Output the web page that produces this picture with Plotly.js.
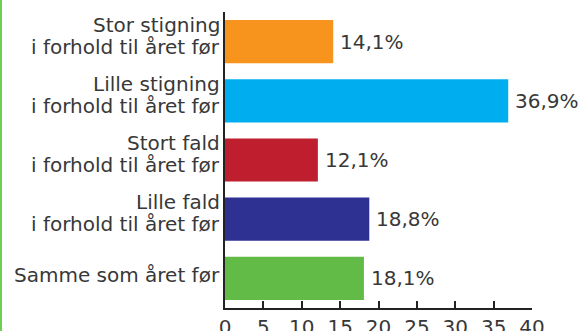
<!DOCTYPE html>
<html>
<head>
<meta charset="utf-8">
<script src="https://cdn.plot.ly/plotly-3.0.1.min.js"></script>
<style>
html,body{margin:0;padding:0;background:#fff;overflow:hidden;}
#wrap{width:583px;height:331px;border-left:2px solid #6ccf4f;}
#chart{width:583px;height:331px;}
</style>
</head>
<body>
<div id="wrap"><div id="chart"></div></div>
<script>
const categories = ["Stor stigning", "Lille stigning", "Stort fald", "Lille fald", "Samme som året før"];
const labelLines = [
  ["Stor stigning", "i forhold til året før"],
  ["Lille stigning", "i forhold til året før"],
  ["Stort fald", "i forhold til året før"],
  ["Lille fald", "i forhold til året før"],
  ["Samme som året før"]
];
const values = [14.1, 36.9, 12.1, 18.8, 18.1];
const valueLabels = ["14,1%", "36,9%", "12,1%", "18,8%", "18,1%"];
const barColors = ["#F7941D", "#00AEEF", "#BE1E2D", "#2E3192", "#62BB46"];
const xTicks = [0, 5, 10, 15, 20, 25, 30, 35, 40];

const FONT = "DejaVu Sans";
const TXT = "#383838";

const trace = {
  type: "bar",
  orientation: "h",
  y: categories,
  x: values,
  marker: {color: barColors},
  hoverinfo: "none"
};

const annotations = [];
categories.forEach((cat, i) => {
  const lines = labelLines[i];
  const shifts = lines.length === 2 ? [17, -5] : [3];
  lines.forEach((ln, j) => {
    annotations.push({
      xref: "paper", yref: "y", x: 0, y: cat,
      xanchor: "right", yanchor: "middle",
      xshift: -3, yshift: shifts[j],
      text: ln, showarrow: false,
      font: {family: FONT, size: 20, color: TXT}
    });
  });
  annotations.push({
    xref: "x", yref: "y", x: values[i], y: cat,
    xanchor: "left", yanchor: "middle",
    xshift: 5, yshift: 0,
    text: valueLabels[i], showarrow: false,
    font: {family: FONT, size: 20, color: TXT}
  });
});

const layout = {
  width: 583, height: 331,
  margin: {l: 223, r: 53, t: 12, b: 23, pad: 0},
  paper_bgcolor: "#ffffff",
  plot_bgcolor: "#ffffff",
  showlegend: false,
  bargap: 0.27,
  font: {family: FONT, size: 20, color: TXT},
  annotations: annotations,
  xaxis: {
    range: [0, 40],
    tickvals: xTicks,
    ticktext: xTicks.map(String),
    showgrid: false, zeroline: false,
    showline: true, linecolor: "#222222", linewidth: 2,
    ticks: "inside", ticklen: 7, tickwidth: 2, tickcolor: "#222222",
    tickfont: {family: FONT, size: 20, color: TXT},
    fixedrange: true
  },
  yaxis: {
    autorange: "reversed",
    showgrid: false, zeroline: false,
    showline: true, linecolor: "#222222", linewidth: 2,
    ticks: "", showticklabels: false,
    fixedrange: true
  }
};

Plotly.newPlot("chart", [trace], layout, {staticPlot: true, displayModeBar: false});
</script>
</body>
</html>
